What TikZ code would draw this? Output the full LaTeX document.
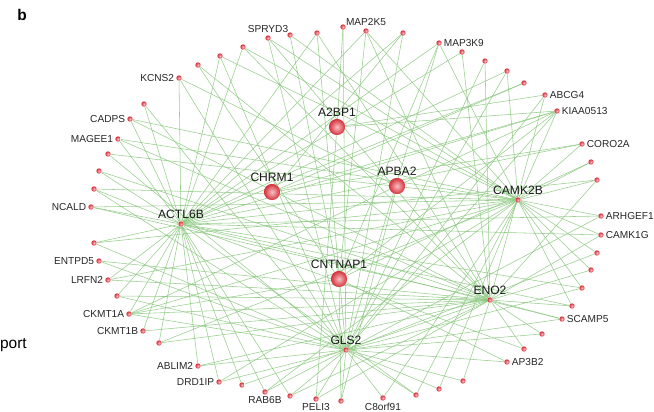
\documentclass[tikz,border=0pt]{standalone}
\usepackage{fontspec}
\setmainfont{Liberation Sans}
\usetikzlibrary{backgrounds}
\definecolor{linkgreen}{RGB}{134,198,122}
\definecolor{genered}{RGB}{236,52,64}
\tikzset{
  gene/.style={circle, inner sep=0pt, minimum size=3.8pt, shading=radial, inner color=genered!35!white, outer color=genered!92!black},
  hub/.style={circle, inner sep=0pt, minimum size=11.5pt, shading=radial, inner color=genered!30!white, outer color=genered!90!black},
  lab/.style={font=\fontsize{7.2}{8}\selectfont, text=black!85, inner sep=1.2pt},
  hublab/.style={font=\fontsize{8.6}{9}\selectfont, text=black!90, inner sep=1.5pt},
  link/.style={draw=linkgreen, line width=0.4pt, draw opacity=0.85},
}
\begin{document}
\begin{tikzpicture}[x=0.025cm, y=-0.025cm]
\useasboundingbox (0,0) rectangle (654,412);
\node[font=\bfseries\fontsize{11}{12}\selectfont] (panel) at (22,15) {b};
\node[font=\fontsize{11}{12}\selectfont, anchor=east, inner sep=0pt] (cut) at (27,345) {port};
% outer ring of genes
\foreach \i/\x/\y/\t/\p in {
  1/268/38/SPRYD3/above, 2/290/35/{}/above, 3/317/33/{}/above, 4/343/27/{}/above,
  5/366/31/MAP2K5/above, 6/403/33/{}/above, 7/439/43/MAP3K9/right, 8/462/52/{}/right,
  9/485/61/{}/right, 10/507/71/{}/right, 11/524/83/{}/right, 12/545/95/ABCG4/right,
  13/557/111/KIAA0513/right, 14/582/144/CORO2A/right, 15/591/162/{}/right, 16/597/180/{}/right,
  17/601/216/ARHGEF1/right, 18/601/235/CAMK1G/right, 19/597/253/{}/right, 20/591/270/{}/right,
  21/582/288/{}/right, 22/572/306/{}/right, 23/562/319/SCAMP5/right, 24/542/334/{}/right,
  25/524/349/{}/right, 26/507/362/AP3B2/right, 27/463/381/{}/below, 28/439/389/{}/below,
  29/416/395/{}/below, 30/383/398/C8orf91/below, 31/341/401/{}/below, 32/316/399/PELI3/below,
  33/290/396/{}/below, 34/265/392/RAB6B/below, 35/242/385/{}/below, 36/219/382/DRD1IP/left,
  37/198/366/ABLIM2/left, 38/159/343/{}/left, 39/143/331/CKMT1B/left, 40/129/314/CKMT1A/left,
  41/117/296/{}/left, 42/108/280/LRFN2/left, 43/99/261/ENTPD5/left, 44/94/243/{}/left,
  45/91/207/NCALD/left, 46/94/189/{}/left, 47/99/171/{}/left, 48/108/154/{}/left,
  49/118/139/MAGEE1/left, 50/130/119/CADPS/left, 51/144/104/{}/left, 52/179/78/KCNS2/left,
  53/198/65/{}/left, 54/220/56/{}/left, 55/243/47/{}/left}
  \node[gene, label={[lab]\p:\t}] (g\i) at (\x,\y) {};
% hub genes
\foreach \n/\x/\y/\t/\s in {
  atwo/337/127/A2BP1/hub, chrm/272/192/CHRM1/hub, apba/397/186/APBA2/hub,
  cntn/339/279/CNTNAP1/hub, actl/181/224/ACTL6B/gene, camk/518/200/CAMK2B/gene,
  eno/490/300/ENO2/gene, gls/346/350/GLS2/gene}
  \node[\s, label={[hublab]above:\t}] (\n) at (\x,\y) {};
% links
\begin{scope}[on background layer]
\foreach \j in {3,5,6,7,8,10,11,13,14,16,17,18,21,22,23,25,29,33,34,35,36,37,38,39,40,41,42,44,45,46,47,49,50,51,52,54,55}
  \draw[link] (actl) -- (g\j);
\foreach \j in {1,2,5,7,10,13,14,15,16,17,18,19,20,21,22,28,29,30,34,36,38,40,42,44,45,46,48,49,50,54,55}
  \draw[link] (camk) -- (g\j);
\foreach \j in {1,3,5,8,9,12,16,18,20,22,23,24,25,27,32,33,35,37,38,39,40,41,42,43,45,47,49,50,53,55}
  \draw[link] (eno) -- (g\j);
\foreach \j in {1,3,4,6,7,9,10,12,13,17,19,21,23,24,26,27,28,29,30,31,32,33,34,36,37,40,41,43,44,46,48,51,52,54}
  \draw[link] (gls) -- (g\j);
\foreach \j in {2,5,7,13,15,26,31,40,53}
  \draw[link] (cntn) -- (g\j);
\foreach \j in {4,12,13,32}
  \draw[link] (atwo) -- (g\j);
\foreach \j in {6,11,13,14}
  \draw[link] (chrm) -- (g\j);
\foreach \j in {13,31,40,52}
  \draw[link] (apba) -- (g\j);
\end{scope}
\end{tikzpicture}
\end{document}
